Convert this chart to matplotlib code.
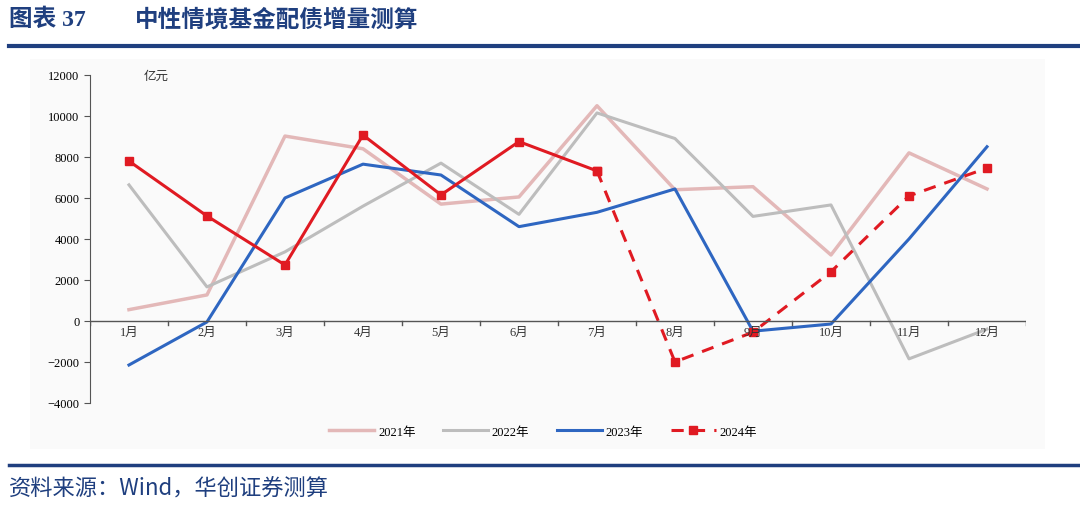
import matplotlib.pyplot as plt
import numpy as np

plt.rcParams['font.family'] = ['Liberation Serif', 'Noto Sans CJK SC']

# 月份与各年数据（亿元）
months = ['1月', '2月', '3月', '4月', '5月', '6月', '7月', '8月', '9月', '10月', '11月', '12月']
y2021 = [550, 1270, 9020, 8400, 5700, 6050, 10500, 6400, 6550, 3220, 8200, 6440]
y2022 = [6640, 1660, 3370, 5600, 7700, 5200, 10150, 8900, 5100, 5660, -1850, -400]
y2023 = [-2150, -50, 6000, 7650, 7120, 4600, 5300, 6440, -500, -150, 4000, 8500]
y2024 = [7800, 5120, 2730, 9070, 6150, 8750, 7320, -2000, -550, 2400, 6100, 7460]
split = 6  # 7月之后为测算（虚线）

navy = '#1f3f7f'
x = np.arange(len(months))

fig = plt.figure(figsize=(10.8, 5.1), dpi=100)
fig.patch.set_facecolor('white')

# 图表背景
bg = fig.add_axes([0.028, 0.117, 0.94, 0.765])
bg.set_facecolor('#fafafa')
bg.set_xticks([]); bg.set_yticks([])
for s in bg.spines.values():
    s.set_visible(False)

ax = fig.add_axes([0.0833, 0.208, 0.8667, 0.643])
ax.patch.set_alpha(0)

ax.plot(x, y2021, color='#e3b8b8', lw=2.5, label='2021年')
ax.plot(x, y2022, color='#bdbdbd', lw=2.2, label='2022年')
ax.plot(x, y2023, color='#2e66c1', lw=2.2, label='2023年')
ax.plot(x[:split + 1], y2024[:split + 1], color='#e01a22', lw=2.2,
        marker='s', ms=6)
ax.plot(x[split:], y2024[split:], color='#e01a22', lw=2.2, ls=(0, (4, 3)),
        marker='s', ms=6, label='2024年')

ax.set_xlim(-0.5, 11.5)
ax.set_ylim(-4000, 12000)
ax.set_yticks(np.arange(-4000, 12001, 2000))
ax.tick_params(axis='y', labelsize=9, length=4, direction='out', color='#555555')

for s in ['top', 'right', 'bottom']:
    ax.spines[s].set_visible(False)
ax.spines['left'].set_color('#555555')
ax.axhline(0, color='#555555', lw=1)

ax.set_xticks(x)
ax.set_xticklabels([])
ax.tick_params(axis='x', length=0)
for xb in np.arange(-0.5, 12, 1):
    ax.plot([xb, xb], [0, -180], color='#555555', lw=1)
for xi, m in zip(x, months):
    ax.text(xi, -550, m, ha='center', va='center', fontsize=9, color='#333333')

ax.text(0.35, 12000, '亿元', ha='center', va='center', fontsize=9,
        color='#333333', family=['Noto Sans CJK SC'])

ax.legend(loc='center', bbox_to_anchor=(0.484, -0.088), ncol=4, frameon=False,
          fontsize=9, handlelength=3.6, columnspacing=2.2, handletextpad=0.3)

# 标题与来源
fig.text(0.008, 0.962, '图表 37', fontsize=17, fontweight='bold', color=navy,
         va='center', family=['Liberation Serif', 'Noto Sans CJK SC'])
fig.text(0.125, 0.962, '中性情境基金配债增量测算', fontsize=17, fontweight='bold',
         color=navy, va='center', family=['Noto Sans CJK SC'])
fig.add_artist(plt.Line2D([0.008, 1.0], [0.908, 0.908], color=navy, lw=3))
fig.add_artist(plt.Line2D([0.008, 1.0], [0.087, 0.087], color=navy, lw=2.5))
fig.text(0.008, 0.042, '资料来源：Wind，华创证券测算', fontsize=16, style='italic',
         color=navy, va='center', family=['Noto Sans CJK SC'])

fig.savefig('out.png', dpi=100)
